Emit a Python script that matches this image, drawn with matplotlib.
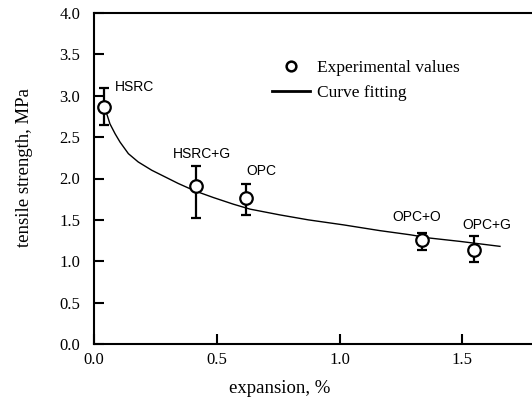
import matplotlib
matplotlib.use("Agg")
import matplotlib.pyplot as plt
from matplotlib.lines import Line2D
import numpy as np

# experimental points
names = ["HSRC", "HSRC+G", "OPC", "OPC+O", "OPC+G"]
expansion = [0.04, 0.414, 0.619, 1.337, 1.548]
strength = [2.86, 1.91, 1.76, 1.26, 1.14]
err_low = [0.21, 0.39, 0.20, 0.13, 0.15]
err_high = [0.23, 0.24, 0.17, 0.08, 0.17]

# label positions (left edge, middle)
label_x = [0.0855, 0.32, 0.619, 1.216, 1.501]
label_y = [3.10, 2.30, 2.09, 1.53, 1.44]

# fitted curve
fit_x = [0.051, 0.065, 0.086, 0.106, 0.14, 0.18, 0.235, 0.289, 0.343, 0.411,
         0.486, 0.567, 0.635, 0.757, 0.873, 1.015, 1.164, 1.287, 1.368, 1.49,
         1.653]
fit_y = [2.79, 2.66, 2.54, 2.44, 2.30, 2.20, 2.10, 2.02, 1.94, 1.85,
         1.77, 1.69, 1.63, 1.56, 1.50, 1.44, 1.37, 1.32, 1.28, 1.24,
         1.18]

serif = "Liberation Serif"
sans = "Liberation Sans"
plt.rcParams["font.family"] = serif

fig = plt.figure(figsize=(5.32, 4.01), dpi=100)
ax = fig.add_axes([94 / 532, 57 / 401, 438 / 532, 331 / 401])

ax.plot(fit_x, fit_y, color="black", lw=1.0)
ax.errorbar(expansion, strength, yerr=[err_low, err_high], fmt="o", ms=9,
            mfc="white", mec="black", mew=1.6, ecolor="black", elinewidth=1.6,
            capsize=3.5, capthick=1.6, zorder=3)

for n, lx, ly in zip(names, label_x, label_y):
    ax.text(lx, ly, n, fontfamily=sans, fontsize=10, va="center", ha="left")

ax.set_xlim(0, 438 / 245.6)
ax.set_ylim(0, 4.0)
ax.set_xticks([0.0, 0.5, 1.0, 1.5])
ax.set_yticks(np.arange(0, 4.01, 0.5))
ax.xaxis.set_major_formatter(matplotlib.ticker.FormatStrFormatter("%.1f"))
ax.yaxis.set_major_formatter(matplotlib.ticker.FormatStrFormatter("%.1f"))
ax.tick_params(direction="in", length=7, width=1.5, labelsize=12)
ax.tick_params(axis="y", pad=10)
ax.tick_params(axis="x", pad=6)
ax.spines["right"].set_visible(False)
for s in ["left", "bottom", "top"]:
    ax.spines[s].set_linewidth(1.5)

ax.set_xlabel("expansion, %", fontsize=13.5, va="center")
ax.set_ylabel("tensile strength, MPa", fontsize=13.5, va="center")
ax.xaxis.set_label_coords(0.425, -0.133)
ax.yaxis.set_label_coords(-0.158, 0.532)

handles = [Line2D([], [], ls="none", marker="o", ms=7, mfc="white", mec="black", mew=1.8),
           Line2D([], [], color="black", lw=2.0)]
ax.legend(handles, ["Experimental values", "Curve fitting"], frameon=False,
          fontsize=12.5, loc="upper left", bbox_to_anchor=(0.37, 0.905),
          handlelength=2.2, handletextpad=0.4, labelspacing=0.5)

fig.savefig("out.png", dpi=100)
